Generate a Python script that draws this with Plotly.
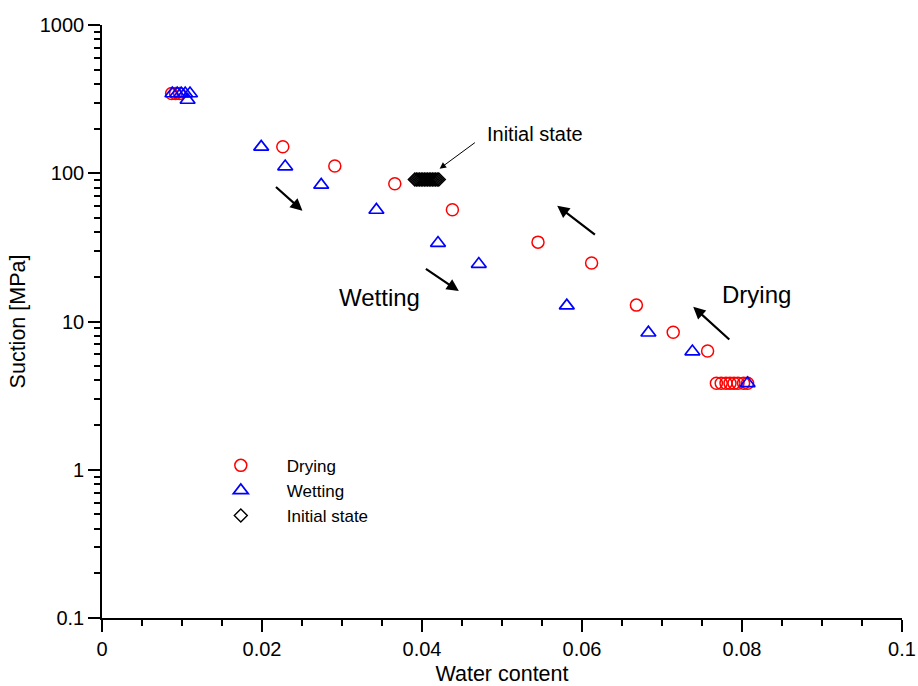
import plotly.graph_objects as go

# Drying branch: water content vs suction (MPa)
drying_w = [0.0087, 0.0092, 0.0097, 0.0226, 0.0291, 0.0366, 0.0438, 0.0545, 0.0612,
            0.0668, 0.0714, 0.0757, 0.0768, 0.0774, 0.0780, 0.0785, 0.0790, 0.0795,
            0.0802, 0.0807]
drying_s = [345, 345, 345, 151, 112, 85, 56.8, 34.3, 24.8,
            12.9, 8.47, 6.33, 3.83, 3.83, 3.83, 3.83, 3.83, 3.83,
            3.83, 3.83]

# Wetting branch
wetting_w = [0.0088, 0.0094, 0.0099, 0.0104, 0.0110, 0.0107, 0.0199, 0.0229, 0.0274,
             0.0343, 0.0420, 0.0471, 0.0581, 0.0683, 0.0738, 0.0807]
wetting_s = [345, 345, 345, 345, 345, 312, 150.6, 111, 83.4,
             56.5, 33.8, 24.4, 12.8, 8.4, 6.27, 3.83]

# Initial state measurements
initial_w = [0.0391, 0.0393, 0.0395, 0.0397, 0.0399, 0.0401, 0.0403, 0.0405, 0.0407,
             0.0409, 0.0411, 0.0413, 0.0415, 0.0417, 0.0419, 0.0421]
initial_s = [90.6] * 16

x_ticks = [0, 0.02, 0.04, 0.06, 0.08, 0.1]
x_labels = ["0", "0.02", "0.04", "0.06", "0.08", "0.1"]
y_ticks = [0.1, 1, 10, 100, 1000]
y_labels = ["0.1", "1", "10", "100", "1000"]

FONT = "Liberation Sans, Arial, sans-serif"

fig = go.Figure()
fig.add_trace(go.Scatter(
    x=drying_w, y=drying_s, mode="markers", name="Drying",
    marker=dict(symbol="circle-open", size=12, color="#ff0000", line=dict(width=1.5)),
))
fig.add_trace(go.Scatter(
    x=wetting_w, y=wetting_s, mode="markers", name="Wetting",
    marker=dict(symbol="triangle-up-open", size=13, color="#0000ff", line=dict(width=1.7)),
))
fig.add_trace(go.Scatter(
    x=initial_w, y=initial_s, mode="markers", name="Initial state",
    marker=dict(symbol="diamond-open", size=10, color="#000000", line=dict(width=1.4)),
))

# Direction arrows (coordinates in data space; y as log10)
arrows = [
    (0.02156, 1.916, 0.02506, 1.747),
    (0.0403, 1.362, 0.0446, 1.205),
    (0.0618, 1.578, 0.0569, 1.781),
    (0.0786, 0.869, 0.0739, 1.099),
]
for x0, y0, x1, y1 in arrows:
    fig.add_annotation(x=x1, y=y1, ax=x0, ay=y0, xref="x", yref="y", axref="x", ayref="y",
                       showarrow=True, arrowhead=2, arrowsize=1.1, arrowwidth=2.2,
                       arrowcolor="black", text="")

fig.add_annotation(x=0.0422, y=2.031, ax=0.0468, ay=2.214, xref="x", yref="y",
                   axref="x", ayref="y", showarrow=True, arrowhead=2, arrowsize=1.3,
                   arrowwidth=1, arrowcolor="black", text="")

fig.add_annotation(x=0.0541, y=2.268, xref="x", yref="y", text="Initial state",
                   showarrow=False, font=dict(family=FONT, size=20, color="black"))
fig.add_annotation(x=0.0347, y=1.159, xref="x", yref="y", text="Wetting",
                   showarrow=False, font=dict(family=FONT, size=24, color="black"))
fig.add_annotation(x=0.0818, y=1.180, xref="x", yref="y", text="Drying",
                   showarrow=False, font=dict(family=FONT, size=24, color="black"))

fig.update_layout(
    width=918, height=686,
    margin=dict(l=102, r=16, t=25, b=68),
    paper_bgcolor="white", plot_bgcolor="white",
    font=dict(family=FONT, size=20, color="black"),
    showlegend=True,
    legend=dict(x=0.116, y=0.287, xanchor="left", yanchor="top",
                bgcolor="rgba(0,0,0,0)", font=dict(family=FONT, size=17),
                itemwidth=82, tracegroupgap=0),
)
fig.update_xaxes(
    range=[0, 0.1], tickvals=x_ticks, ticktext=x_labels, automargin=False,
    showline=True, linecolor="black", linewidth=1.6, mirror=False,
    ticks="outside", ticklen=12, tickwidth=1.6, tickcolor="black",
    showgrid=False, zeroline=False,
    minor=dict(ticks="outside", ticklen=6, tickwidth=1.6, tickcolor="black", dtick=0.005, showgrid=False),
    title=dict(text="Water content", font=dict(size=21.5), standoff=11),
    tickfont=dict(size=20),
)
fig.update_yaxes(
    type="log", range=[-1, 3], tickvals=y_ticks, ticktext=y_labels, automargin=False,
    showline=True, linecolor="black", linewidth=1.6, mirror=False,
    ticks="outside", ticklen=12, tickwidth=1.6, tickcolor="black",
    showgrid=False, zeroline=False,
    minor=dict(ticks="outside", ticklen=6, tickwidth=1.6, tickcolor="black", dtick="D1", showgrid=False),
    title=dict(text="Suction [MPa]", font=dict(size=21.5), standoff=8),
    tickfont=dict(size=20),
)

fig.write_html("out.html")
